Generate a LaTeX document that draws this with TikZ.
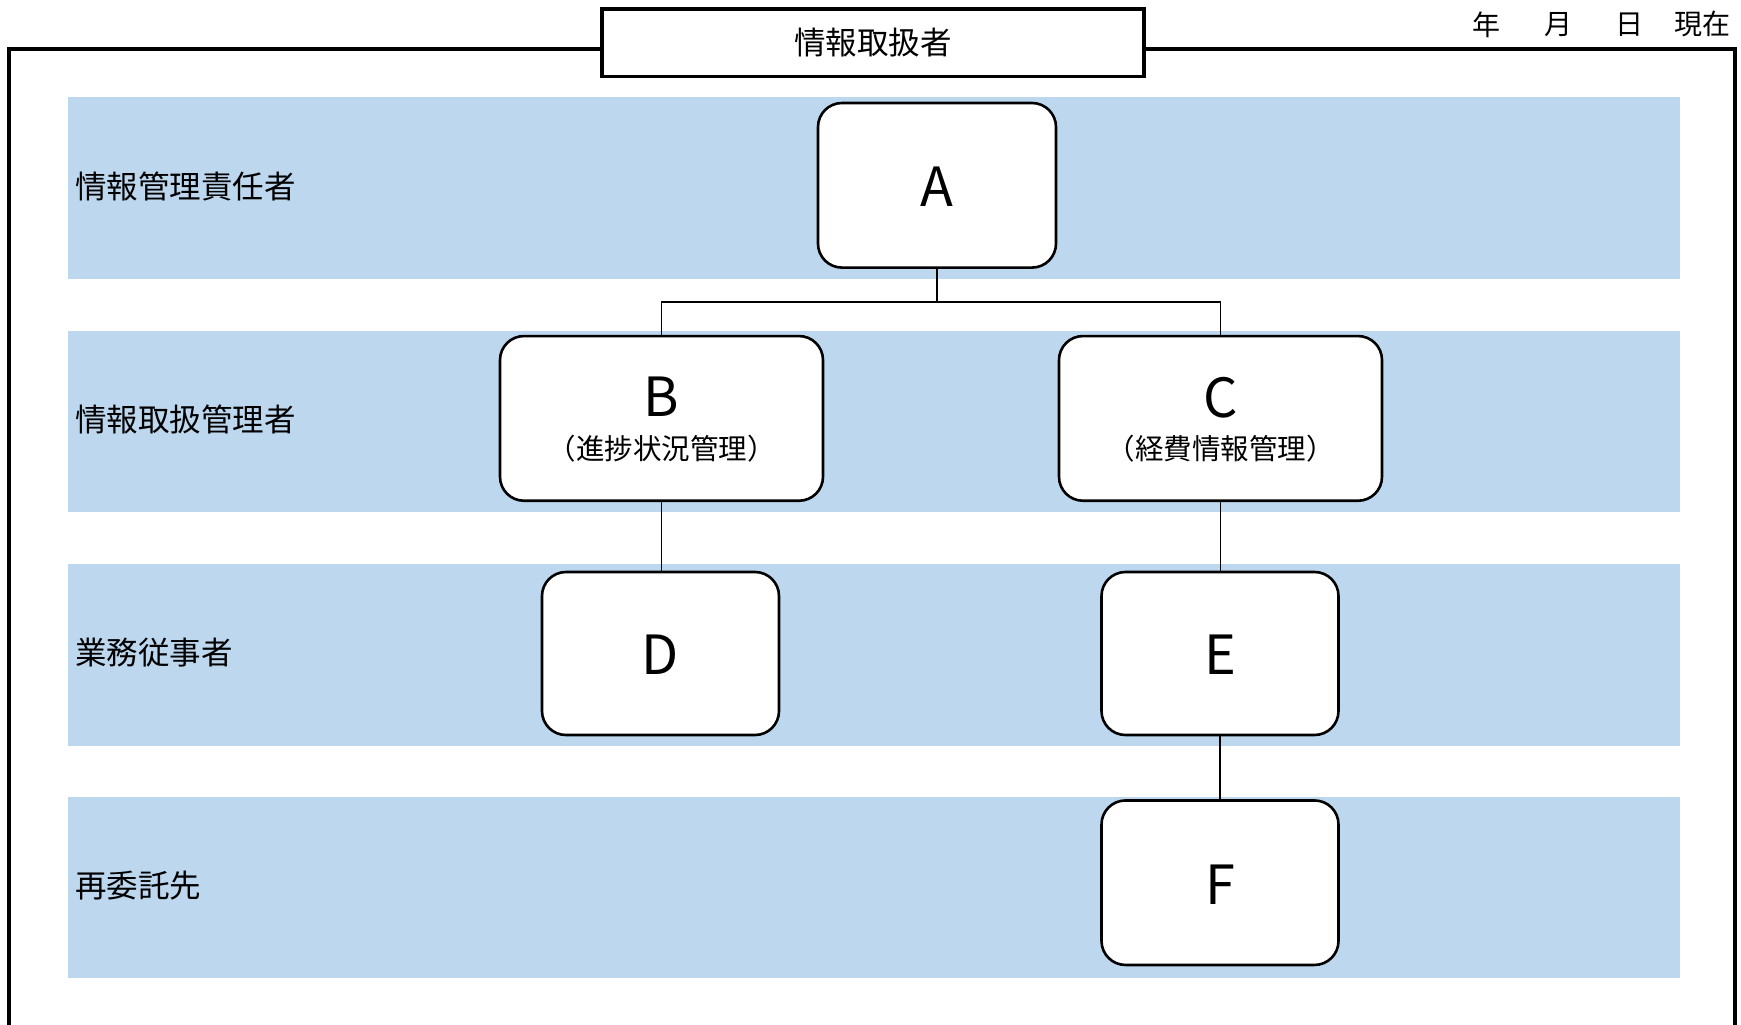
\documentclass[tikz,border=0pt]{standalone}
\usepackage{fontspec}
\setmainfont{Noto Sans CJK JP}
\definecolor{bandblue}{HTML}{BDD7EE}
\tikzset{
  band/.style={fill=bandblue, draw=none},
  rolebox/.style={draw=black, fill=white, line width=2.6pt, rounded corners=24pt, inner sep=0pt, align=center, font=\fontsize{54}{46}\selectfont, text depth=0pt},
  lanelabel/.style={anchor=west, inner sep=0pt, font=\fontsize{31.5}{36}\selectfont},
  conn/.style={draw=black, line width=1.1pt},
}
\newcommand{\subtxt}[1]{{\fontsize{28.5}{46}\selectfont #1}}
\newcommand{\bigtxt}[1]{{\fontsize{54}{46}\selectfont\raisebox{-3.3pt}{#1}}}
\begin{document}
\begin{tikzpicture}[x=1pt,y=-1pt]
\useasboundingbox (0,0) rectangle (1741,1025);
% outer frame
\draw[line width=4.5pt] (8.9,1040) -- (8.9,48.9) -- (1735,48.9) -- (1735,1040);
% title box
\node[draw=black, fill=white, line width=3.5pt, minimum width=542pt, minimum height=67.7pt, inner sep=0pt, font=\fontsize{31.5}{36}\selectfont] (title) at (873,42.7) {情報取扱者};
% date
\node[inner sep=0pt, font=\fontsize{28}{34}\selectfont] (yr) at (1486,24.4) {年};
\node[inner sep=0pt, font=\fontsize{28}{34}\selectfont] (mo) at (1558,24.4) {月};
\node[inner sep=0pt, font=\fontsize{28}{34}\selectfont] (dy) at (1629,24.4) {日};
\node[inner sep=0pt, font=\fontsize{28}{34}\selectfont] (gz) at (1702,24.4) {現在};
% bands
\fill[band] (67.7,96.6) rectangle (1680,278.7);
\fill[band] (67.7,330.9) rectangle (1680,511.9);
\fill[band] (67.7,564) rectangle (1680,746);
\fill[band] (67.7,797) rectangle (1680,978);
% lane labels
\node[lanelabel] (l1) at (75,186.5) {情報管理責任者};
\node[lanelabel] (l2) at (75,419.7) {情報取扱管理者};
\node[lanelabel] (l3) at (75,652.9) {業務従事者};
\node[lanelabel] (l4) at (75,886) {再委託先};
% boxes
\node[rolebox, minimum width=238pt, minimum height=164.6pt] (A) at (937,185.3) {\bigtxt{A}};
\node[rolebox, minimum width=323pt, minimum height=164.7pt] (B) at (661.5,418.4) {\bigtxt{B}\\\subtxt{（進捗状況管理）}};
\node[rolebox, minimum width=323pt, minimum height=164.7pt] (C) at (1220.5,418.4) {\bigtxt{C}\\\subtxt{（経費情報管理）}};
\node[rolebox, minimum width=237pt, minimum height=163pt] (D) at (660.5,653.5) {\bigtxt{D}};
\node[rolebox, minimum width=237pt, minimum height=163pt] (E) at (1220,653.5) {\bigtxt{E}};
\node[rolebox, minimum width=237pt, minimum height=164.5pt] (F) at (1220,882.7) {\bigtxt{F}};
% connectors
\coordinate (J) at (937,302);
\draw[conn] (A.south) -- (J);
\draw[conn] (B.north) |- (J) -| (C.north);
\draw[conn] (B.south) -- (D.north -| B.south);
\draw[conn] (C.south) -- (E.north -| C.south);
\draw[conn] (E.south) -- (F.north);
\end{tikzpicture}
\end{document}
